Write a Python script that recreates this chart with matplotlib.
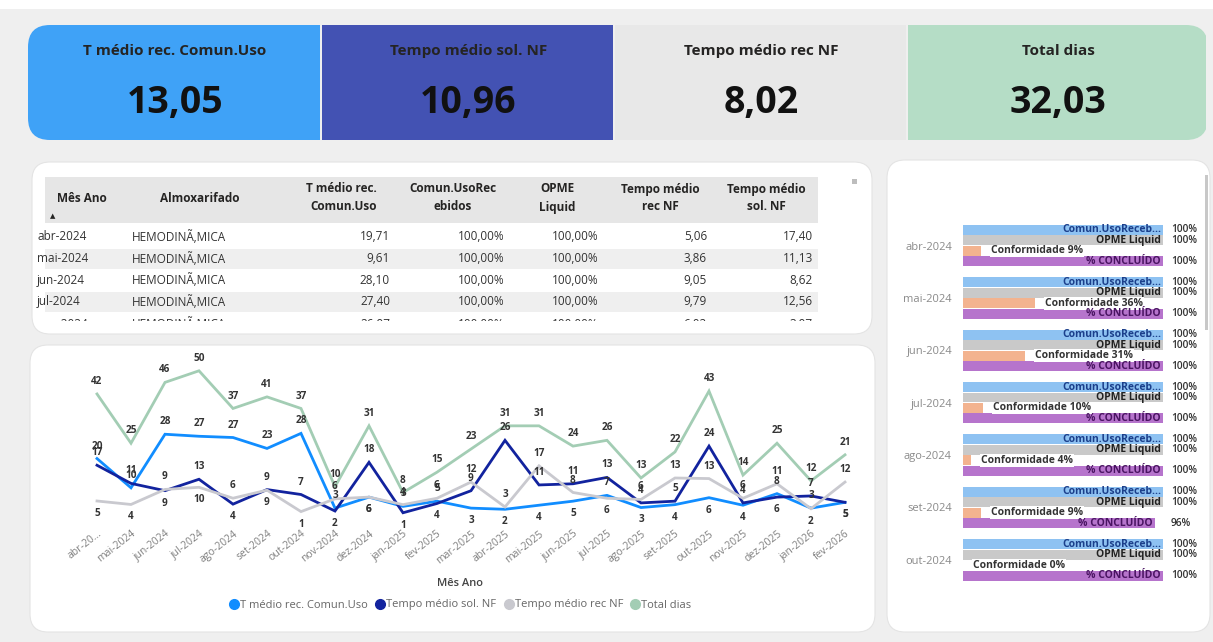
import numpy as np
import matplotlib.pyplot as plt
from matplotlib.patches import FancyBboxPatch, Rectangle
from matplotlib.lines import Line2D

plt.rcParams['font.family'] = ['Open Sans', 'DejaVu Sans']

W, H = 1213, 642

# cartões do topo
kpi_titles = ['T médio rec. Comun.Uso', 'Tempo médio sol. NF', 'Tempo médio rec NF', 'Total dias']
kpi_values = ['13,05', '10,96', '8,02', '32,03']
kpi_colors = ['#3FA2F7', '#4352B3', '#E8E8E8', '#B5DDC6']

# tabela
tab_headers = ['Mês Ano', 'Almoxarifado', 'T médio rec.\nComun.Uso', 'Comun.UsoRec\nebidos',
               'OPME\nLiquid', 'Tempo médio\nrec NF', 'Tempo médio\nsol. NF']
tab_mes = ['abr-2024', 'mai-2024', 'jun-2024', 'jul-2024', 'ago-2024']
tab_almox = ['HEMODINÃ‚MICA'] * 5
tab_tmedio = ['19,71', '9,61', '28,10', '27,40', '26,97']
tab_comun = ['100,00%'] * 5
tab_opme = ['100,00%'] * 5
tab_recnf = ['5,06', '3,86', '9,05', '9,79', '6,02']
tab_solnf = ['17,40', '11,13', '8,62', '12,56', '3,97']

# gráfico de linhas
meses = ['abr-2024', 'mai-2024', 'jun-2024', 'jul-2024', 'ago-2024', 'set-2024', 'out-2024',
         'nov-2024', 'dez-2024', 'jan-2025', 'fev-2025', 'mar-2025', 'abr-2025', 'mai-2025',
         'jun-2025', 'jul-2025', 'ago-2025', 'set-2025', 'out-2025', 'nov-2025', 'dez-2025',
         'jan-2026', 'fev-2026']
t_comun = [19.71, 9.61, 28.10, 27.40, 26.97, 23.2, 28.4, 2.6, 6.4, 3.2, 5.0, 2.6, 2.2, 3.6,
           5.0, 7.0, 2.8, 3.8, 6.2, 3.6, 7.6, 2.6, 4.6]
sol_nf = [17.40, 11.13, 8.62, 12.56, 3.97, 9.0, 7.3, 1.6, 18.4, 1.0, 4.2, 8.6, 26.0, 10.6,
          11.0, 13.2, 4.4, 5.0, 24.0, 4.4, 6.4, 6.8, 4.6]
rec_nf = [5.06, 3.86, 9.05, 9.79, 6.02, 8.8, 1.4, 5.8, 6.4, 3.8, 6.0, 11.6, 3.0, 17.2,
          8.0, 6.0, 5.6, 13.0, 12.8, 6.0, 11.0, 2.4, 11.6]
total_dias = [42, 25, 46, 50, 37, 41, 37, 10, 31, 8, 15, 23, 31, 31, 24, 26, 13, 22, 43, 14,
              25, 12, 21]

# barras (painel direito)
bar_meses = ['abr-2024', 'mai-2024', 'jun-2024', 'jul-2024', 'ago-2024', 'set-2024', 'out-2024']
comun_receb = [1.0, 1.0, 1.0, 1.0, 1.0, 1.0, 1.0]
opme_liquid = [1.0, 1.0, 1.0, 1.0, 1.0, 1.0, 1.0]
conformidade = [0.09, 0.36, 0.31, 0.10, 0.04, 0.09, 0.0]
concluido = [1.0, 1.0, 1.0, 1.0, 1.0, 0.96, 1.0]


def box(x, y, w, h):
    return [x / W, 1 - (y + h) / H, w / W, h / H]


def rnd(v):
    return str(int(np.floor(v + 0.5)))


fig = plt.figure(figsize=(W / 100, H / 100), dpi=100)
fig.patch.set_facecolor('#EFEFEF')
bg = fig.add_axes([0, 0, 1, 1])
bg.set_xlim(0, W)
bg.set_ylim(H, 0)
bg.axis('off')
bg.add_patch(Rectangle((0, 0), W, 9, color='white', lw=0))

# ---- cartões
strip = FancyBboxPatch((28, 25), 1180, 115, boxstyle='round,pad=0,rounding_size=22',
                       fc='none', ec='none')
bg.add_patch(strip)
cx = [28, 322, 615, 908, 1208]
for i in range(4):
    r = Rectangle((cx[i], 25), cx[i + 1] - cx[i] - 2, 115, fc=kpi_colors[i], ec='none')
    bg.add_patch(r)
    r.set_clip_path(strip)
    mid = (cx[i] + cx[i + 1]) / 2
    bg.text(mid, 51, kpi_titles[i], ha='center', va='center', fontsize=11,
            fontweight='bold', color='#252423')
    bg.text(mid, 103, kpi_values[i], ha='center', va='center', fontsize=27,
            fontweight='bold', color='#111111')

# ---- painéis brancos
for (x, y, w, h) in [(32, 162, 840, 172), (30, 345, 845, 287), (887, 160, 323, 472)]:
    bg.add_patch(FancyBboxPatch((x, y), w, h, boxstyle='round,pad=0,rounding_size=18',
                                fc='white', ec='#E4E4E4', lw=0.8))
bg.add_patch(Rectangle((852, 179), 5, 5, color='#BDBDBD', lw=0))
bg.add_patch(Rectangle((1205, 175), 3, 155, color='#C8C8C8', lw=0))

# ---- tabela (a última linha fica cortada pela rolagem)
tab = fig.add_axes(box(33, 165, 836, 156))
tab.set_xlim(33, 869)
tab.set_ylim(321, 165)
tab.axis('off')
tab.add_patch(Rectangle((45, 177), 773, 46, color='#E6E6E6', lw=0))
row_y = [237, 258.6, 280.2, 301.8, 324.5]
for k, y in enumerate(row_y):
    if k % 2 == 1:
        tab.add_patch(Rectangle((45, y - 10), 773, 20, color='#EFEFEF', lw=0))

hdr_x = [57, 200, 377, 453, 557, 660, 766]
hdr_ha = ['left', 'center', 'right', 'center', 'center', 'center', 'center']
for t, x, ha in zip(tab_headers, hdr_x, hdr_ha):
    tab.text(x, 198, t, ha=ha, va='center', fontsize=8.5, fontweight='bold',
             color='#252423', linespacing=1.5, multialignment=ha)
tab.text(50, 217, '▲', ha='left', va='center', fontsize=5, color='#252423')

cols = [tab_mes, tab_almox, tab_tmedio, tab_comun, tab_opme, tab_recnf, tab_solnf]
col_x = [37, 132, 390, 505, 599, 707, 813]
col_ha = ['left', 'left', 'right', 'right', 'right', 'right', 'right']
for vals, x, ha in zip(cols, col_x, col_ha):
    for v, y in zip(vals, row_y):
        tab.text(x, y, v, ha=ha, va='center', fontsize=8.5, color='#333333', clip_on=True)

# ---- gráfico de linhas
ax = fig.add_axes(box(80, 365, 782, 155))
ax.set_facecolor('none')
x = np.arange(len(meses))
series = [(t_comun, '#118DFF', 'T médio rec. Comun.Uso'),
          (sol_nf, '#12239E', 'Tempo médio sol. NF'),
          (rec_nf, '#C9C9CF', 'Tempo médio rec NF'),
          (total_dias, '#A3CDB4', 'Total dias')]
for vals, col, lab in series:
    ax.plot(x, vals, color=col, lw=2.0, solid_joinstyle='miter')

sub = np.array([t_comun, sol_nf, rec_nf])
for s in range(3):
    for i in x:
        v = sub[s, i]
        below = v == sub[:, i].min()
        ax.annotate(rnd(v), (i, v), xytext=(0, -5 if below else 5), textcoords='offset points',
                    ha='center', va='top' if below else 'bottom', fontsize=7.2,
                    fontweight='bold', color='#333333')
for i in x:
    ax.annotate(rnd(total_dias[i]), (i, total_dias[i]), xytext=(0, 5),
                textcoords='offset points', ha='center', va='bottom', fontsize=7.2,
                fontweight='bold', color='#333333')

ax.set_xlim(-0.5, len(meses) - 0.5)
ax.set_ylim(-1.5, 52)
ax.set_yticks([])
ax.set_xticks(x)
ax.set_xticklabels([m if i else m[:6] + '...' for i, m in enumerate(meses)],
                   rotation=38, ha='right', rotation_mode='anchor', fontsize=7.5,
                   color='#808080')
ax.tick_params(axis='x', length=0, pad=6)
for sp in ax.spines.values():
    sp.set_visible(False)

bg.text(460, 583, 'Mês Ano', ha='center', va='center', fontsize=8, fontweight='semibold',
        color='#444444')
handles = [Line2D([], [], ls='none', marker='o', ms=7, color=c) for _, c, _ in series]
fig.legend(handles, [l for _, _, l in series], loc='center', ncol=4, frameon=False,
           bbox_to_anchor=(460 / W, 1 - 605 / H), fontsize=8, labelcolor='#666666',
           handletextpad=0.05, columnspacing=0.6, handlelength=1.0)

# ---- barras
bx = fig.add_axes(box(963, 219.5, 200, 366.5))
bx.set_facecolor('none')
g = np.arange(len(bar_meses))
bar_series = [(comun_receb, '#8EC2F2', 'Comun.UsoReceb...', '#1B3F8B'),
              (opme_liquid, '#C9C9C9', 'OPME Liquid', '#222222'),
              (conformidade, '#F3B38F', 'Conformidade', '#333333'),
              (concluido, '#B674CC', '% CONCLUÍDO', '#4A1462')]
for k, (vals, col, name, tcol) in enumerate(bar_series):
    yk = g + (k - 1.5) * 0.2
    bx.barh(yk, vals, height=0.19, color=col)
    for yy, v in zip(yk, vals):
        pct = f'{int(round(v * 100))}%'
        if name == 'Conformidade':
            bx.text(v + 0.05, yy, f'{name} {pct}', ha='left', va='center', fontsize=7.5,
                    fontweight='bold', color=tcol,
                    bbox=dict(fc='white', ec='none', pad=0.5))
        else:
            bx.text(v - 0.01, yy, name, ha='right', va='center', fontsize=7.5,
                    fontweight='bold', color=tcol)
            bx.text(1.04, yy, pct, ha='left', va='center', fontsize=7.3,
                    fontweight='semibold', color='#333333', clip_on=False)
bx.set_xlim(0, 1)
bx.set_ylim(len(bar_meses) - 0.5, -0.5)
bx.set_xticks([])
bx.set_yticks(g)
bx.set_yticklabels(bar_meses, fontsize=8, color='#8A8A8A')
bx.tick_params(axis='y', length=0, pad=8)
for sp in bx.spines.values():
    sp.set_visible(False)

fig.savefig('out.png', dpi=100, facecolor=fig.get_facecolor())
